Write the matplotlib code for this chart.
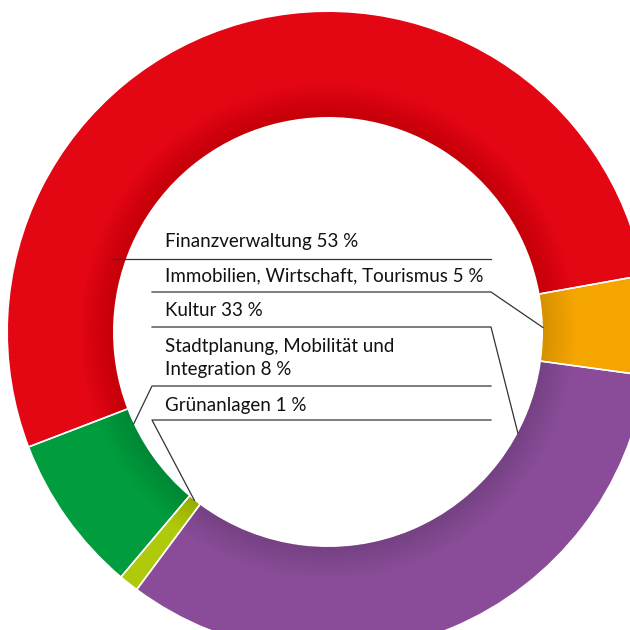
import numpy as np
import matplotlib.pyplot as plt
from matplotlib.patches import Wedge

# values in clockwise order, starting with the big red slice
labels = ["Finanzverwaltung 53 %",
          "Immobilien, Wirtschaft, Tourismus 5 %",
          "Kultur 33 %",
          "Grünanlagen 1 %",
          "Stadtplanung, Mobilität und\nIntegration 8 %"]
shares = [53, 5, 33, 1, 8]
colors = ["#E30613", "#F5A500", "#8A4C98", "#AFCA0B", "#009C3E"]

# label rows from top to bottom refer to these slice indices
label_order = [0, 1, 2, 4, 3]
# where the leader line touches the inner edge (fraction through the slice)
leader_frac = [None, 0.5, 0.17, 0.5, 0.85]

W = H = 630
CX, CY, R = 328, 332, 320
R_IN = 215 / R


def px(x, y):
    return (x - CX) / R, (CY - y) / R


fig = plt.figure(figsize=(6.3, 6.3), dpi=100)
ax = fig.add_axes([0, 0, 1, 1])

wedges, _ = ax.pie(shares, colors=colors, startangle=201, counterclock=False,
                   radius=1, wedgeprops=dict(width=1 - R_IN, linewidth=0))

# soft inner shadow
for k in range(10):
    ax.add_patch(Wedge((0, 0), R_IN + 0.01 * (k + 1), 0, 360,
                       width=0.01 * (k + 1), facecolor="black",
                       alpha=0.01, linewidth=0))

# white separators between slices
for w in wedges:
    for ang in (w.theta1, w.theta2):
        a = np.deg2rad(ang)
        ax.plot([R_IN * np.cos(a), 1.01 * np.cos(a)],
                [R_IN * np.sin(a), 1.01 * np.sin(a)],
                color="white", lw=1.1, solid_capstyle="butt")

# labels with rules underneath
text_x = 165
rule_x0, rule_x1 = 152, 491
rows = [  # text centre y, rule y
    (242, 259),
    (276, 292),
    (310, 327),
    (358, 386),
    (406, 420),
]
font = dict(family=["Lato", "DejaVu Sans"], fontsize=13.5, color="#111111")

for (ty, ry), idx in zip(rows, label_order):
    x, y = px(text_x, ty)
    ax.text(x, y, labels[idx], ha="left", va="center", linespacing=1.45, **font)
    w = wedges[idx]
    if idx == 0:
        # first rule runs left to the red ring
        xa, ya = px(113, ry)
        xb, yb = px(rule_x1, ry)
        ax.plot([xa, xb], [ya, yb], color="#333333", lw=0.9)
        continue
    f = leader_frac[idx]
    ang = np.deg2rad(w.theta2 - f * (w.theta2 - w.theta1))
    ex, ey = R_IN * np.cos(ang), R_IN * np.sin(ang)
    xa, ya = px(rule_x0, ry)
    xb, yb = px(rule_x1, ry)
    if ex > 0:
        ax.plot([xa, xb, ex], [ya, yb, ey], color="#333333", lw=0.9)
    else:
        ax.plot([ex, xa, xb], [ey, ya, yb], color="#333333", lw=0.9)

x0, y0 = px(0, 0)
x1, y1 = px(W, H)
ax.set_xlim(x0, x1)
ax.set_ylim(y1, y0)
ax.set_aspect("auto")
ax.axis("off")

fig.savefig("out.png", dpi=100, facecolor="white")
